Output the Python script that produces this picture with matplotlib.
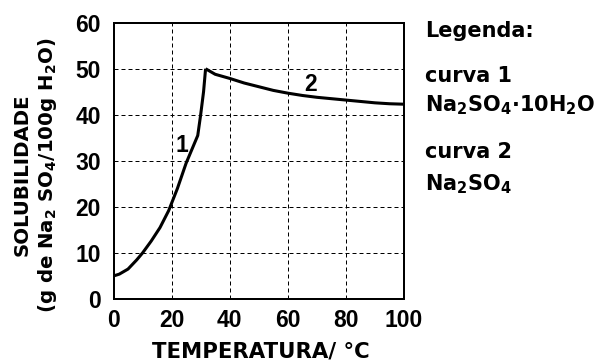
import matplotlib
matplotlib.use("Agg")
import matplotlib.pyplot as plt

plt.rcParams['mathtext.default'] = 'regular'

# Solubility of sodium sulfate in water (g Na2SO4 / 100 g H2O)
temp_decahydrate = [0, 2, 5, 8, 10, 13, 16, 19, 22, 25, 27, 29, 30, 31, 31.7]
sol_decahydrate = [5.0, 5.4, 6.5, 8.5, 10.0, 12.6, 15.5, 19.2, 24.0, 29.5, 32.5, 35.5, 40.0, 45.0, 50.0]

temp_anhydrous = [31.7, 35, 40, 45, 50, 55, 60, 65, 70, 75, 80, 85, 90, 95, 100]
sol_anhydrous = [50.0, 48.8, 47.9, 46.9, 46.1, 45.3, 44.7, 44.2, 43.8, 43.5, 43.2, 42.9, 42.6, 42.4, 42.3]

x_ticks = [0, 20, 40, 60, 80, 100]
y_ticks = [0, 10, 20, 30, 40, 50, 60]

curve_labels = [("1", 23.4, 33.3), ("2", 67.8, 46.6)]

W, H = 601, 363
fig = plt.figure(figsize=(W / 100, H / 100), dpi=100)
ax = fig.add_axes([113.5 / W, 1 - 299 / H, (404 - 113.5) / W, (299 - 22.7) / H])

ax.plot(temp_decahydrate, sol_decahydrate, color='black', lw=2.2, solid_capstyle='butt')
ax.plot(temp_anhydrous, sol_anhydrous, color='black', lw=2.2, solid_capstyle='butt')

for txt, x, y in curve_labels:
    ax.text(x, y, txt, ha='center', va='center', fontsize=16.5,
            fontfamily='Liberation Sans', fontweight='bold')

ax.set_xlim(0, 100)
ax.set_ylim(0, 60)
ax.set_xticks(x_ticks)
ax.set_yticks(y_ticks)
ax.grid(True, color='black', lw=0.72, linestyle=(0, (4, 3)))
ax.tick_params(length=0, pad=7, labelsize=16.5)
ax.tick_params(axis='y', pad=9)
for lab in ax.get_xticklabels() + ax.get_yticklabels():
    lab.set_fontfamily('Liberation Sans')
    lab.set_fontweight('bold')
for sp in ax.spines.values():
    sp.set_linewidth(1.44)

# Axis titles
fig.text(261 / W, 1 - 357.5 / H, "TEMPERATURA/ °C", ha='center', va='baseline',
         fontsize=15.3, fontweight='bold', fontfamily='DejaVu Sans')
fig.text(27.5 / W, 1 - 175 / H, "SOLUBILIDADE", rotation=90, rotation_mode='anchor',
         ha='center', va='baseline', fontsize=14.2, fontweight='bold',
         fontfamily='DejaVu Sans')
fig.text(53 / W, 1 - 175 / H, "(g de Na$_2$ SO$_4$/100g H$_2$O)", rotation=90,
         rotation_mode='anchor', ha='center', va='baseline', fontsize=14.2,
         fontweight='bold', fontfamily='DejaVu Sans')

# Legend block
legend_lines = [
    ("Legenda:", 36.7),
    ("curva 1", 81.7),
    ("Na$_2$SO$_4$·10H$_2$O", 111.7),
    ("curva 2", 158.3),
    ("Na$_2$SO$_4$", 190),
]
for txt, yb in legend_lines:
    fig.text(425 / W, 1 - yb / H, txt, ha='left', va='baseline', fontsize=15,
             fontweight='bold', fontfamily='DejaVu Sans')

fig.savefig("out.png", dpi=100)
